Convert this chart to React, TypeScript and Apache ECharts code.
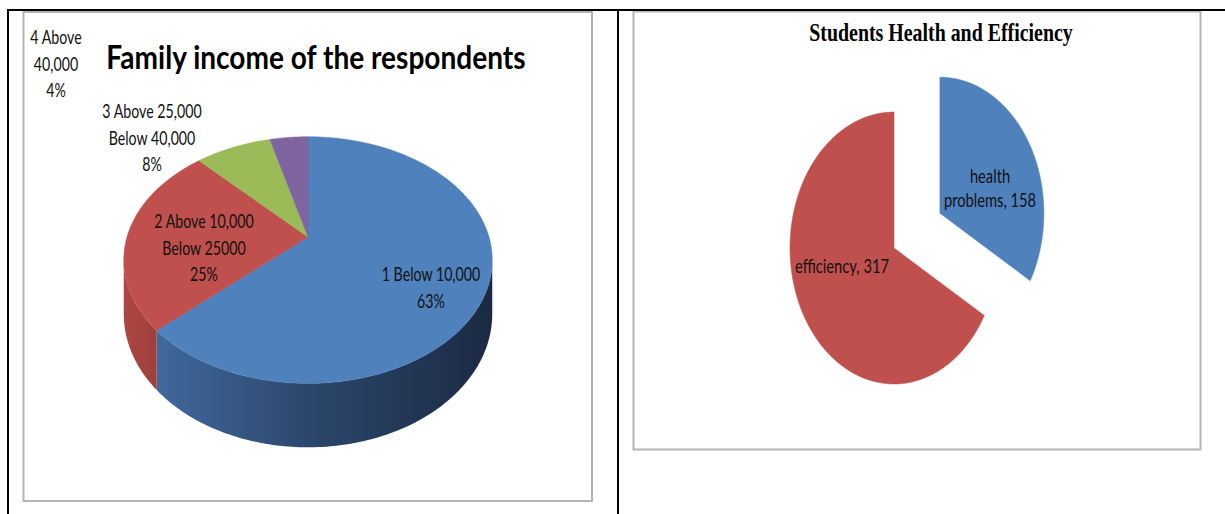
import React, { useEffect, useRef } from "react";
import * as echarts from "echarts";

// ---- data ----
const incomeCategories = [
  "1 Below 10,000",
  "2 Above 10,000\nBelow 25000",
  "3 Above 25,000\nBelow 40,000",
  "4 Above\n40,000",
];
const incomeShares = [63, 25, 8, 4];

const healthCategories = ["health\nproblems", "efficiency"];
const healthCounts = [158, 317];

const incomeTitle = "Family income of the respondents";
const healthTitle = "Students Health and Efficiency";

// ---- styles / layout ----
const incomeColors = ["#4f81bd", "#c0504d", "#9bbb59", "#8064a2"];
const healthColors = ["#4f81bd", "#c0504d"];
const PIE3D = { cx: 308, cy: 237, sx: 181, sy: 119, p: 0.187, depth: 52 };
const incomeLabelPos = [
  [431, 287],
  [204, 247],
  [152, 137],
  [56, 63],
];
const PIE2D = { cx: 894, cy: 248, rx: 104, ry: 136, explode: 0.51 };
const healthLabelPos = [
  [990, 188],
  [842, 266],
];
const LABEL_FONT = "Lato";

function sliceAngles(values: number[]) {
  const total = values.reduce((a, b) => a + b, 0);
  let acc = 0;
  return values.map((v) => {
    const a0 = (acc / total) * Math.PI * 2;
    acc += v;
    return [a0, (acc / total) * Math.PI * 2];
  });
}

function proj3d(theta: number, r = 1) {
  const X = r * Math.sin(theta);
  const Y = r * Math.cos(theta);
  const w = 1 + PIE3D.p * Y;
  return [PIE3D.cx + (PIE3D.sx * X) / w, PIE3D.cy - (PIE3D.sy * Y) / w, w];
}

function arcPoints(a0: number, a1: number, f: (t: number) => number[]) {
  const n = Math.max(2, Math.ceil(((a1 - a0) * 180) / Math.PI));
  const pts: number[][] = [];
  for (let i = 0; i <= n; i++) {
    const t = a0 + ((a1 - a0) * i) / n;
    pts.push(f(t));
  }
  return pts;
}

const incomeAngles = sliceAngles(incomeShares);
const healthAngles = sliceAngles(healthCounts);

export default function App() {
  const ref = useRef<HTMLDivElement>(null);
  useEffect(() => {
    if (!ref.current) return;
    const chart = echarts.init(ref.current, null, { renderer: "svg" });

    const visL = Math.acos(-PIE3D.p); // right silhouette
    const visR = 2 * Math.PI - visL; // left silhouette

    const sideGradients = [
      new echarts.graphic.LinearGradient(
        124, 0, 492, 0,
        [
          { offset: 0, color: "#4a73a8" },
          { offset: 0.12, color: "#3f6699" },
          { offset: 0.5, color: "#2c476c" },
          { offset: 1, color: "#1b2a43" },
        ],
        true
      ),
      new echarts.graphic.LinearGradient(
        124, 0, 160, 0,
        [
          { offset: 0, color: "#ad4743" },
          { offset: 1, color: "#9c3e3a" },
        ],
        true
      ),
      "#7d9448",
      "#65507f",
    ];

    const sideRender = (params: any, api: any) => {
      const i = params.dataIndex;
      const [a0, a1] = incomeAngles[i];
      const s0 = Math.max(a0, visL);
      const s1 = Math.min(a1, visR);
      if (s1 <= s0) return { type: "group", children: [] };
      const top = arcPoints(s0, s1, (t) => proj3d(t));
      const bottom = top
        .map((p) => [p[0], p[1] + PIE3D.depth / p[2]])
        .reverse();
      return {
        type: "polygon",
        shape: { points: top.map((p) => [p[0], p[1]]).concat(bottom) },
        style: { fill: sideGradients[i], stroke: null },
      };
    };

    const topRender = (params: any, api: any) => {
      const i = params.dataIndex;
      const [a0, a1] = incomeAngles[i];
      const c = proj3d(0, 0);
      const pts = [[c[0], c[1]]].concat(
        arcPoints(a0, a1, (t) => proj3d(t)).map((p) => [p[0], p[1]])
      );
      const value = api.value(0);
      return {
        type: "group",
        children: [
          {
            type: "polygon",
            shape: { points: pts },
            style: { fill: incomeColors[i], stroke: incomeColors[i], lineWidth: 0.5 },
          },
          {
            type: "text",
            x: incomeLabelPos[i][0],
            y: incomeLabelPos[i][1],
            scaleX: 0.86,
            scaleY: 1.22,
            z2: 20,
            style: {
              text: incomeCategories[i] + "\n" + value + "%",
              fontFamily: LABEL_FONT,
              fontSize: 16.5,
              lineHeight: 22,
              fill: "#111",
              align: "center",
              verticalAlign: "middle",
            },
          },
        ],
      };
    };

    const healthRender = (params: any, api: any) => {
      const i = params.dataIndex;
      const [a0, a1] = healthAngles[i];
      const mid = (a0 + a1) / 2;
      const off = i === 0 ? PIE2D.explode : 0;
      const ox = PIE2D.cx + off * PIE2D.rx * Math.sin(mid);
      const oy = PIE2D.cy - off * PIE2D.ry * Math.cos(mid);
      const pts = [[ox, oy]].concat(
        arcPoints(a0, a1, (t) => [
          ox + PIE2D.rx * Math.sin(t),
          oy - PIE2D.ry * Math.cos(t),
        ])
      );
      const value = api.value(0);
      return {
        type: "group",
        children: [
          {
            type: "polygon",
            shape: { points: pts },
            style: { fill: healthColors[i], stroke: healthColors[i], lineWidth: 0.5 },
          },
          {
            type: "text",
            x: healthLabelPos[i][0],
            y: healthLabelPos[i][1],
            scaleX: 0.98,
            scaleY: 1.22,
            z2: 20,
            style: {
              text: healthCategories[i] + ", " + value,
              fontFamily: LABEL_FONT,
              fontSize: 15,
              lineHeight: 19.5,
              fill: "#111",
              align: "center",
              verticalAlign: "middle",
            },
          },
        ],
      };
    };

    chart.setOption({
      animation: false,
      backgroundColor: "#ffffff",
      graphic: [
        // chart boxes
        {
          type: "rect",
          shape: { x: 23.5, y: 12, width: 568.5, height: 489 },
          style: { fill: "#fff", stroke: "#b4b4b4", lineWidth: 2 },
          z: -10,
        },
        {
          type: "rect",
          shape: { x: 633.5, y: 11.5, width: 567, height: 438 },
          style: { fill: "#fff", stroke: "#b4b4b4", lineWidth: 2 },
          z: -10,
        },
        // table borders
        { type: "rect", shape: { x: 7, y: 9, width: 1218, height: 2 }, style: { fill: "#000" } },
        { type: "rect", shape: { x: 7, y: 9, width: 2, height: 505 }, style: { fill: "#000" } },
        { type: "rect", shape: { x: 617, y: 9, width: 2, height: 505 }, style: { fill: "#000" } },
        // titles
        {
          type: "text",
          x: 316,
          y: 57,
          scaleX: 1.04,
          scaleY: 1.22,
          style: {
            text: incomeTitle,
            fontFamily: LABEL_FONT,
            fontWeight: "bold",
            fontSize: 27,
            fill: "#000",
            align: "center",
            verticalAlign: "middle",
          },
        },
        {
          type: "text",
          x: 941,
          y: 33,
          scaleX: 1.02,
          scaleY: 1.25,
          style: {
            text: healthTitle,
            fontFamily: "Liberation Serif",
            fontWeight: "bold",
            fontSize: 19.5,
            fill: "#000",
            align: "center",
            verticalAlign: "middle",
          },
        },
      ],
      series: [
        {
          type: "custom",
          name: "income sides",
          coordinateSystem: "none",
          z: 1,
          silent: true,
          data: incomeShares.map((v) => [v]),
          renderItem: sideRender,
        },
        {
          type: "custom",
          name: "income",
          coordinateSystem: "none",
          z: 2,
          data: incomeShares.map((v) => [v]),
          renderItem: topRender,
        },
        {
          type: "custom",
          name: "health",
          coordinateSystem: "none",
          z: 2,
          data: healthCounts.map((v) => [v]),
          renderItem: healthRender,
        },
      ],
    });
    return () => chart.dispose();
  }, []);
  return (
    <div
      ref={ref}
      style={{ position: "absolute", left: 0, top: 0, width: 1225, height: 514 }}
    />
  );
}
